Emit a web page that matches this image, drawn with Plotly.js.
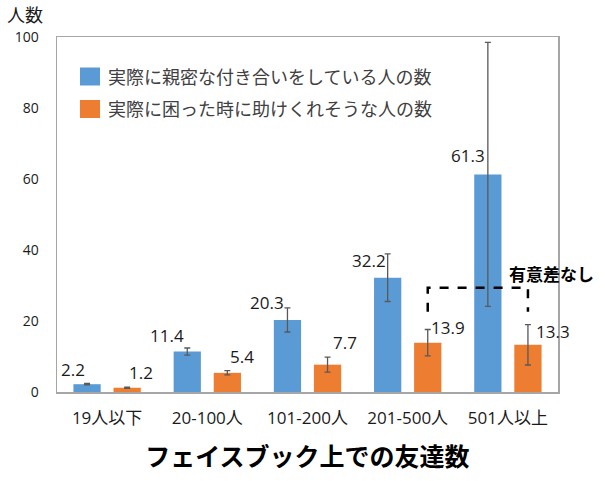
<!DOCTYPE html>
<html>
<head>
<meta charset="utf-8">
<script src="https://cdn.plot.ly/plotly-3.0.1.min.js"></script>
<style>html,body{margin:0;padding:0;background:#fff;}#chart{width:605px;height:481px;}</style>
</head>
<body>
<div id="chart"></div>
<script>
const categories = ['19人以下', '20-100人', '101-200人', '201-500人', '501人以上'];
const seriesNames = ['実際に親密な付き合いをしている人の数', '実際に困った時に助けくれそうな人の数'];
const closeValues = [2.2, 11.4, 20.3, 32.2, 61.3];
const closeErrors = [0.2, 1.0, 3.4, 6.7, 37.2];
const helpValues = [1.2, 5.4, 7.7, 13.9, 13.3];
const helpErrors = [0.15, 0.6, 2.1, 3.7, 5.7];
const yTicks = [0, 20, 40, 60, 80, 100];
const xTitle = 'フェイスブック上での友達数';
const yTitle = '人数';
const noteText = '有意差なし';

// label placement (pixel offsets from bar top / bar centre)
const closeLabelDx = [-14, -20, -20, -19, -20];
const closeLabelDy = [15, 16, 17, 17, 19];
const helpLabelDx = [14, 15, 17, 20, 25];
const helpLabelDy = [15, 16, 22, 15, 13];
const barOffset = 0.2;

const FONT = 'Open Sans, Noto Sans CJK JP, sans-serif';
const JFONT = 'Noto Sans CJK JP, sans-serif';

const traces = [
  {
    type: 'bar', name: seriesNames[0], x: categories, y: closeValues, legendgroup: 'a',
    marker: {color: '#5b9bd5'},
    error_y: {type: 'data', array: closeErrors, visible: true, color: '#595959', thickness: 1.3, width: 3},
    hoverinfo: 'none'
  },
  {
    type: 'bar', name: seriesNames[1], x: categories, y: helpValues, legendgroup: 'b',
    marker: {color: '#ed7d31'},
    error_y: {type: 'data', array: helpErrors, visible: true, color: '#595959', thickness: 1.3, width: 3},
    hoverinfo: 'none'
  }
];

const annotations = [];
closeValues.forEach((v, i) => annotations.push({
  x: i - barOffset, y: v, xref: 'x', yref: 'y', text: String(v), showarrow: false,
  xshift: closeLabelDx[i], yshift: closeLabelDy[i], font: {family: FONT, size: 17, color: '#1a1a1a'}
}));
helpValues.forEach((v, i) => annotations.push({
  x: i + barOffset, y: v, xref: 'x', yref: 'y', text: String(v), showarrow: false,
  xshift: helpLabelDx[i], yshift: helpLabelDy[i], font: {family: FONT, size: 17, color: '#1a1a1a'}
}));
annotations.push({
  xref: 'paper', yref: 'paper', x: -0.064, y: 1.065, xanchor: 'center', yanchor: 'middle',
  text: yTitle, showarrow: false,
  font: {family: JFONT, size: 18, color: '#1a1a1a'}
});
annotations.push({
  xref: 'paper', yref: 'y', x: 0.898, y: 33.5, xanchor: 'left', yanchor: 'middle',
  text: '<b>' + noteText + '</b>', showarrow: false,
  font: {family: JFONT, size: 17, color: '#000'}
});

const layout = {
  width: 605, height: 481,
  margin: {l: 57, r: 47, t: 37, b: 89},
  paper_bgcolor: '#fff', plot_bgcolor: '#fff',
  barmode: 'group', bargap: 0.2, bargroupgap: 0.32,
  showlegend: true,
  legend: {
    x: 0.022, y: 0.94, xanchor: 'left', yanchor: 'top', traceorder: 'grouped',
    bgcolor: 'rgba(0,0,0,0)', font: {family: JFONT, size: 18, color: '#404040'},
    tracegroupgap: 6
  },
  xaxis: {
    type: 'category', range: [-0.5, categories.length - 0.5], autorange: false,
    showline: true, mirror: true, linecolor: '#a6a6a6', linewidth: 1.5,
    ticks: 'outside', ticklen: 10, tickcolor: 'rgba(0,0,0,0)',
    tickfont: {family: FONT, size: 17, color: '#1a1a1a'},
    title: {text: '<b>' + xTitle + '</b>', font: {family: JFONT, size: 25, color: '#000'}, standoff: 20}
  },
  yaxis: {
    range: [0, 100], autorange: false, tickvals: yTicks, showgrid: false, zeroline: false,
    showline: true, mirror: true, linecolor: '#a6a6a6', linewidth: 1.5,
    ticks: 'outside', ticklen: 14, tickcolor: 'rgba(0,0,0,0)',
    tickfont: {family: FONT, size: 14, color: '#1a1a1a'}
  },
  shapes: [{
    type: 'path', xref: 'x', yref: 'y',
    path: 'M ' + (3 + barOffset) + ',22.6 L ' + (3 + barOffset) + ',29.4 L ' + (4 + barOffset) + ',29.4 L ' + (4 + barOffset) + ',22.6',
    line: {color: '#000', width: 2.5, dash: 'dash'}
  }],
  annotations: annotations
};

Plotly.newPlot('chart', traces, layout, {displayModeBar: false, staticPlot: true}).then(() => {
  const chart = document.getElementById('chart');
  const cr = chart.getBoundingClientRect();
  document.querySelectorAll('#chart .legend .legendpoints path').forEach(p => {
    const bb = p.getBBox();
    const r = p.getBoundingClientRect();
    if (!r.width) return;
    const dx = 90 - (r.left + r.width / 2 - cr.left);
    const cx = bb.x + bb.width / 2 + dx;
    const cy = bb.y + bb.height / 2;
    p.setAttribute('d', 'M' + (cx + 10) + ',' + (cy + 9) + 'H' + (cx - 10) + 'V' + (cy - 9) + 'H' + (cx + 10) + 'Z');
  });
});
</script>
</body>
</html>
